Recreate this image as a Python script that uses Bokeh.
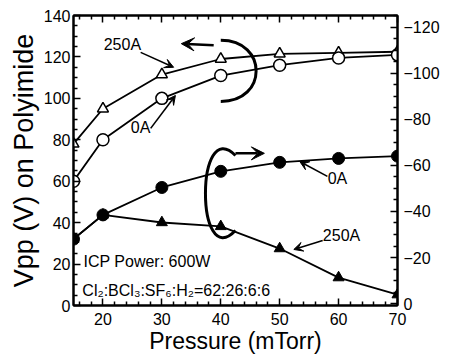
import math
from bokeh.plotting import figure
from bokeh.models import (Range1d, LinearAxis, FixedTicker, Label,
                          Arrow, VeeHead)
from bokeh.embed import file_html
from bokeh.resources import INLINE

# ---------------- data ----------------
pressure = [15, 20, 30, 40, 50, 60, 70]
vpp_250A = [78, 95, 111.5, 119, 121.5, 122, 122.5]
vpp_0A = [60, 80, 100, 111, 116, 119.5, 121]
vdc_0A = [-28, -38.5, -50.4, -57.4, -61.3, -63, -64]
vdc_250A = [-28, -38.5, -35.2, -33.5, -23.9, -11.3, -3.9]

x_ticks = [20, 30, 40, 50, 60, 70]
x_minor = [16, 18, 22, 24, 26, 28, 32, 34, 36, 38, 42, 44, 46, 48,
           52, 54, 56, 58, 62, 64, 66, 68]
left_ticks = [0, 20, 40, 60, 80, 100, 120, 140]
left_minor = [5, 10, 15, 25, 30, 35, 45, 50, 55, 65, 70, 75, 85, 90, 95,
              105, 110, 115, 125, 130, 135]
right_ticks = [0, -20, -40, -60, -80, -100, -120]
right_minor = [-5, -10, -15, -25, -30, -35, -45, -50, -55, -65, -70, -75,
               -85, -90, -95, -105, -110, -115, -125]

FONT = "Liberation Sans"

p = figure(width=473, height=358, output_backend="svg", toolbar_location=None,
           x_range=Range1d(15, 70), y_range=Range1d(0, 140),
           min_border_left=73, min_border_right=76, min_border_top=15,
           min_border_bottom=53, background_fill_color="white",
           border_fill_color="white")
p.extra_y_ranges = {"right": Range1d(0.8, -125)}
p.grid.visible = False
p.outline_line_color = "black"
p.outline_line_width = 2


def style(ax):
    ax.major_tick_in = 7
    ax.major_tick_out = 0
    ax.minor_tick_in = 4
    ax.minor_tick_out = 0
    ax.axis_line_width = 2
    ax.axis_line_color = "black"
    ax.major_tick_line_width = 1.5
    ax.minor_tick_line_width = 1.5
    ax.major_tick_line_color = "black"
    ax.minor_tick_line_color = "black"
    ax.major_label_text_font = FONT
    ax.major_label_text_font_size = "16px"
    ax.major_label_text_color = "black"
    ax.axis_label_text_font = FONT
    ax.axis_label_text_font_style = "normal"
    ax.axis_label_text_color = "black"


xa = p.xaxis[0]
xa.ticker = FixedTicker(ticks=x_ticks, minor_ticks=x_minor)
style(xa)
xa.major_label_standoff = 7
xa.axis_label = "Pressure (mTorr)"
xa.axis_label_text_font_size = "23px"
xa.axis_label_standoff = 0

ya = p.yaxis[0]
ya.ticker = FixedTicker(ticks=left_ticks, minor_ticks=left_minor)
style(ya)
ya.major_label_standoff = 3
ya.axis_label = "Vpp (V) on Polyimide"
ya.axis_label_text_font_size = "27px"
ya.axis_label_standoff = 2

ra = LinearAxis(y_range_name="right",
                ticker=FixedTicker(ticks=right_ticks, minor_ticks=right_minor))
style(ra)
ra.major_label_standoff = 6
p.add_layout(ra, "right")

ta = LinearAxis(ticker=FixedTicker(ticks=x_ticks, minor_ticks=x_minor))
style(ta)
ta.major_label_overrides = {t: "" for t in x_ticks}
ta.major_label_standoff = 0
p.add_layout(ta, "above")

# ---------------- series ----------------
p.line(pressure, vpp_250A, line_color="black", line_width=1.8)
p.line(pressure, vpp_0A, line_color="black", line_width=1.8)
p.line(pressure, vdc_0A, line_color="black", line_width=1.8, y_range_name="right")
p.line(pressure, vdc_250A, line_color="black", line_width=1.8, y_range_name="right")

p.scatter(pressure, vpp_250A, marker="triangle", size=11, fill_color="white",
          line_color="black", line_width=1.5)
p.scatter(pressure, vpp_0A, marker="circle", size=12, fill_color="white",
          line_color="black", line_width=1.5)
p.scatter(pressure, vdc_0A, marker="circle", size=12, fill_color="black",
          line_color="black", y_range_name="right")
p.scatter(pressure, vdc_250A, marker="triangle", size=11, fill_color="black",
          line_color="black", y_range_name="right")

# ---------------- annotations ----------------
# axis-grouping arcs
p.bezier(x0=[40], y0=[128], x1=[40], y1=[98.5], cx0=[48], cy0=[128],
         cx1=[48], cy1=[98.5], line_color="black", line_width=3)
p.bezier(x0=[42.5], y0=[-64.3], x1=[42.5], y1=[-31.7], cx0=[35.7], cy0=[-82],
         cx1=[35.7], cy1=[-13.5], line_color="black", line_width=3,
         y_range_name="right")

p.add_layout(Arrow(end=VeeHead(size=13, fill_color="black", line_color="black"),
                   x_start=38.8, y_start=125.6, x_end=33.3, y_end=126.4,
                   line_width=2.5, line_color="black"))
p.add_layout(Arrow(end=VeeHead(size=13, fill_color="black", line_color="black"),
                   x_start=42.5, y_start=-65.2, x_end=47.4, y_end=-65.2,
                   line_width=2.5, line_color="black", y_range_name="right"))


# pointer arrows
def pointer(xs, ys, xe, ye, rng="default"):
    p.add_layout(Arrow(end=VeeHead(size=9, fill_color="black", line_color="black"),
                       x_start=xs, y_start=ys, x_end=xe, y_end=ye,
                       line_width=1.6, line_color="black", y_range_name=rng))


pointer(26.4, 122.2, 32.0, 115.0)
pointer(28.1, 85.5, 32.3, 101.4)
pointer(58.1, -55.2, 53.4, -61.7, "right")
pointer(57.3, -27.4, 52.4, -23.5, "right")


def text(x, y, t, rng="default", align="center", size="16px", angle=0.0):
    p.add_layout(Label(x=x, y=y, text=t, text_align=align, text_baseline="middle",
                       text_font=FONT, text_font_size=size, text_color="black",
                       y_range_name=rng, angle=angle))


text(23.3, 126, "250A")
text(26.4, 86, "0A")
text(59.8, -54.3, "0A", "right")
text(60.5, -29.6, "250A", "right")
text(16.7, 21.2, "ICP Power: 600W", align="left")
text(16.5, 7.2, "Cl\u2082:BCl\u2083:SF\u2086:H\u2082=62:26:6:6", align="left")
text(78.8, 72, "Vdc (V) on Polyimide", size="26px", angle=math.pi / 2)

open("out.html", "w").write(file_html(p, INLINE))
